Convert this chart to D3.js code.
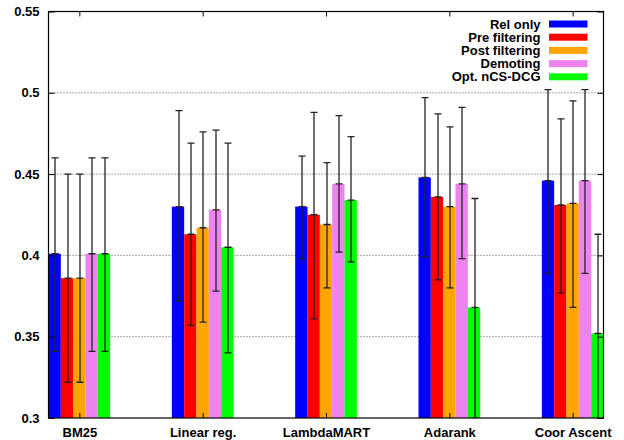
<!DOCTYPE html>
<html>
<head>
<meta charset="utf-8">
<script src="https://cdn.jsdelivr.net/npm/d3@7"></script>
<style>
  body { margin: 0; background: #fff; }
  svg { display: block; font-family: "Liberation Sans", Arial, sans-serif; font-weight: bold; }
</style>
</head>
<body>
<svg id="chart" width="624" height="440"></svg>
<script>
// methods on the x axis
const methods = ["BM25", "Linear reg.", "LambdaMART", "Adarank", "Coor Ascent"];
// series, one per bar in each group
const series = ["Rel only", "Pre filtering", "Post filtering", "Demoting", "Opt. nCS-DCG"];
const colors = ["#0000ff", "#ff0000", "#ffa500", "#ee82ee", "#00ff00"];

// mean value per series, per method
const relOnly      = [0.401, 0.430, 0.430, 0.448, 0.446];
const preFilter    = [0.386, 0.413, 0.425, 0.436, 0.431];
const postFilter   = [0.386, 0.417, 0.419, 0.430, 0.432];
const demoting     = [0.401, 0.428, 0.444, 0.444, 0.446];
const optNcs       = [0.401, 0.405, 0.434, 0.368, 0.352];

// error bar low / high per series, per method
const relOnlyLo    = [0.341, 0.372, 0.398, 0.399, 0.389];
const relOnlyHi    = [0.460, 0.489, 0.461, 0.497, 0.502];
const preFilterLo  = [0.322, 0.357, 0.361, 0.385, 0.377];
const preFilterHi  = [0.450, 0.469, 0.488, 0.487, 0.484];
const postFilterLo = [0.322, 0.359, 0.380, 0.380, 0.368];
const postFilterHi = [0.450, 0.476, 0.457, 0.479, 0.495];
const demotingLo   = [0.341, 0.378, 0.402, 0.398, 0.389];
const demotingHi   = [0.460, 0.477, 0.486, 0.491, 0.502];
const optNcsLo     = [0.341, 0.340, 0.396, 0.300, 0.291];
const optNcsHi     = [0.460, 0.469, 0.473, 0.435, 0.413];

const yTicks = [0.3, 0.35, 0.4, 0.45, 0.5, 0.55];

const means = [relOnly, preFilter, postFilter, demoting, optNcs];
const lows = [relOnlyLo, preFilterLo, postFilterLo, demotingLo, optNcsLo];
const highs = [relOnlyHi, preFilterHi, postFilterHi, demotingHi, optNcsHi];

const svg = d3.select("#chart");
const margin = { top: 11.5, right: 20.5, bottom: 22, left: 48.5 };
const width = 624, height = 440;
const innerWidth = width - margin.left - margin.right;
const innerHeight = height - margin.top - margin.bottom;

const g = svg.append("g")
    .attr("transform", `translate(${margin.left},${margin.top})`);

// gnuplot-style numeric x axis, one unit per method
const x = d3.scaleLinear()
    .domain([-0.25, methods.length - 0.75])
    .range([0, innerWidth]);

const y = d3.scaleLinear()
    .domain([0.3, 0.55])
    .range([innerHeight, 0]);

const barW = 0.1;

// grid lines
g.append("g")
    .selectAll("line")
    .data(yTicks.filter(t => t > 0.3 && t < 0.55))
    .join("line")
    .attr("x1", 0)
    .attr("x2", innerWidth)
    .attr("y1", d => y(d))
    .attr("y2", d => y(d))
    .attr("stroke", "#555")
    .attr("stroke-width", 1)
    .attr("stroke-dasharray", "1 2");

g.append("defs").append("clipPath")
    .attr("id", "plot-clip")
    .append("rect")
    .attr("width", innerWidth)
    .attr("height", innerHeight);

const plot = g.append("g").attr("clip-path", "url(#plot-clip)");

// bars
series.forEach((s, si) => {
    const offset = (si - 2) * barW;
    plot.append("g")
        .selectAll("rect")
        .data(methods.map((m, mi) => ({ mi, v: means[si][mi] })))
        .join("rect")
        .attr("x", d => x(d.mi + offset - barW / 2))
        .attr("width", x(barW) - x(0))
        .attr("y", d => y(d.v))
        .attr("height", d => y(0.3) - y(d.v))
        .attr("fill", colors[si]);
});

// error bars
series.forEach((s, si) => {
    const offset = (si - 2) * barW;
    const eg = plot.append("g")
        .selectAll("g")
        .data(methods.map((m, mi) => ({ mi, v: means[si][mi], lo: lows[si][mi], hi: highs[si][mi] })))
        .join("g")
        .attr("stroke", "#222")
        .attr("stroke-width", 1.3);
    const cx = d => Math.round(x(d.mi + offset)) + 0.5;
    eg.append("line")
        .attr("x1", cx).attr("x2", cx)
        .attr("y1", d => y(d.lo)).attr("y2", d => y(d.hi));
    [d => d.lo, d => d.v, d => d.hi].forEach(f => {
        eg.append("line")
            .attr("x1", d => cx(d) - 3.5).attr("x2", d => cx(d) + 3.5)
            .attr("y1", d => y(f(d))).attr("y2", d => y(f(d)));
    });
});

// axes with inward ticks, mirrored on opposite sides
g.append("g")
    .attr("transform", `translate(0,${innerHeight})`)
    .call(d3.axisBottom(x).tickValues(methods.map((m, i) => i)).tickFormat(i => methods[i]).tickSize(-5).tickPadding(10))
    .call(ax => ax.select(".domain").remove())
    .call(ax => ax.selectAll("text").attr("font-size", 13).attr("font-weight", "bold").attr("font-family", "Liberation Sans, Arial, sans-serif").attr("fill", "#000"));

g.append("g")
    .call(d3.axisTop(x).tickValues(methods.map((m, i) => i)).tickFormat("").tickSize(-5))
    .call(ax => ax.select(".domain").remove());

g.append("g")
    .call(d3.axisLeft(y).tickValues(yTicks).tickFormat(d3.format("")).tickSize(-6).tickPadding(9))
    .call(ax => ax.select(".domain").remove())
    .call(ax => ax.selectAll("text").attr("font-size", 13).attr("font-weight", "bold").attr("font-family", "Liberation Sans, Arial, sans-serif").attr("fill", "#000"));

g.append("g")
    .attr("transform", `translate(${innerWidth},0)`)
    .call(d3.axisRight(y).tickValues(yTicks).tickFormat("").tickSize(-6))
    .call(ax => ax.select(".domain").remove());

// frame
g.append("rect")
    .attr("width", innerWidth)
    .attr("height", innerHeight)
    .attr("fill", "none")
    .attr("stroke", "#000")
    .attr("stroke-width", 1.2);

// legend
const legend = g.append("g")
    .attr("transform", `translate(${540.5 - margin.left},${24 - margin.top})`);

series.forEach((s, si) => {
    const row = legend.append("g").attr("transform", `translate(0,${si * 13.2})`);
    row.append("text")
        .attr("text-anchor", "end")
        .attr("dy", "0.36em")
        .attr("font-size", 13)
        .text(s);
    row.append("rect")
        .attr("x", 8.5)
        .attr("y", -3.5)
        .attr("width", 38.5)
        .attr("height", 7)
        .attr("fill", colors[si]);
});
</script>
</body>
</html>
